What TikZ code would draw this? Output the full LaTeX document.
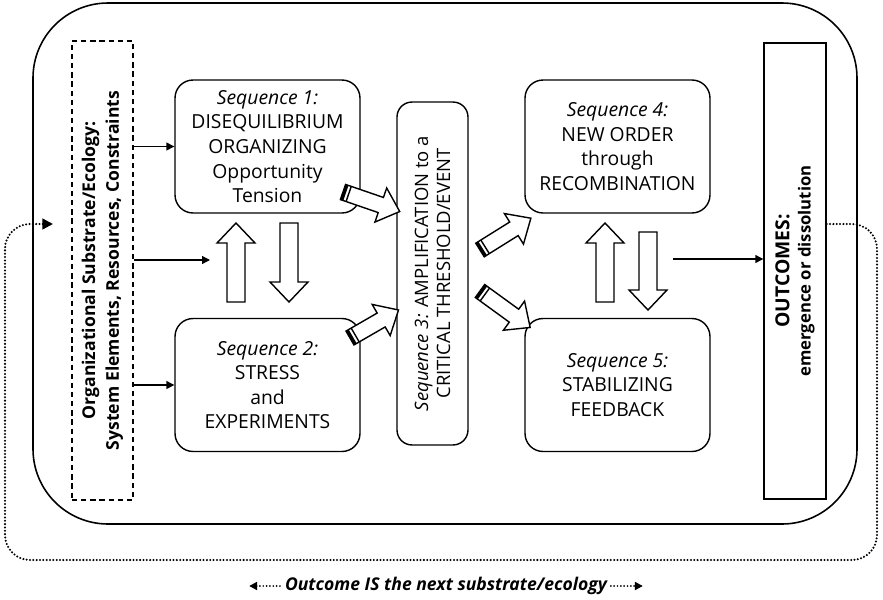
\documentclass[tikz,border=0pt]{standalone}
\usepackage{fontspec}
\setmainfont{Open Sans}
\usetikzlibrary{arrows.meta, positioning, calc}

\tikzset{
  seqbox/.style={draw, line width=0.8pt, rounded corners=0.36cm, minimum width=3.7cm,
    minimum height=2.66cm, align=center, inner sep=0pt, font=\fontsize{11}{14}\selectfont},
  flow/.style={-{Triangle[length=4.5pt,width=4.5pt]}, line width=0.7pt},
  loopline/.style={line width=1.3pt, dash pattern=on 0pt off 1.9pt, line cap=round, rounded corners=0.5cm},
}

% hollow block arrow: tail, angle, length
\newcommand{\fatarrow}[3]{%
  \begin{scope}[shift={#1}, rotate=#2]
    \draw[line width=0.8pt, fill=white] (0,-9) -- ({#3-20},-9) -- ({#3-20},-19) -- (#3,0)
      -- ({#3-20},19) -- ({#3-20},9) -- (0,9) -- cycle;
  \end{scope}}
% hollow block arrow with a banded tail
\newcommand{\bandarrow}[3]{%
  \begin{scope}[shift={#1}, rotate=#2]
    \draw[line width=0.8pt, fill=white] (0,-8) -- ({#3-20},-8) -- ({#3-20},-18) -- (#3,0)
      -- ({#3-20},18) -- ({#3-20},8) -- (0,8) -- cycle;
    \draw[line width=1.8pt] (1.5,-8) -- (1.5,8);
    \draw[line width=0.8pt] (6,-8) -- (6,8);
  \end{scope}}

\begin{document}
\begin{tikzpicture}[x=0.02cm, y=-0.02cm]
    \useasboundingbox (0,0) rectangle (883,599);

    \draw[line width=0.9pt, rounded corners=1.5cm] (33,3) rectangle (857,524);

    \node[draw, dash pattern=on 3pt off 2.2pt, line width=1.6pt, minimum width=1.22cm,
      minimum height=9.18cm, inner sep=0pt] (sub) at (102.5,270.5) {};
    \node[rotate=90, align=center, font=\fontsize{10}{13.5}\selectfont\bfseries] (subtxt) at (sub)
      {Organizational Substrate/Ecology:\\System Elements, Resources, Constraints};

    \node[seqbox] (seqA) at (267.5,146.5)
      {\textit{Sequence 1:}\\DISEQUILIBRIUM\\ORGANIZING\\Opportunity\\Tension};
    \node[seqbox] (seqB) at (267.5,385)
      {\textit{Sequence 2:}\\STRESS\\and\\EXPERIMENTS};
    \node[seqbox, rounded corners=0.3cm, minimum width=1.42cm, minimum height=6.86cm] (seqC) at (432.5,273.5) {};
    \node[rotate=90, align=center, font=\fontsize{10.5}{12.5}\selectfont] (seqCtxt) at (seqC)
      {\textit{Sequence 3:} AMPLIFICATION to a\\CRITICAL THRESHOLD/EVENT};
    \node[seqbox] (seqD) at (617.5,146.5)
      {\textit{Sequence 4:}\\NEW ORDER\\through\\RECOMBINATION};
    \node[seqbox] (seqE) at (617.5,385)
      {\textit{Sequence 5:}\\STABILIZING\\FEEDBACK};

    \node[draw, line width=0.8pt, minimum width=1.24cm, minimum height=9.12cm, inner sep=0pt] (out) at (795,271) {};
    \node[rotate=90, align=center, font=\bfseries] (outtxt) at (out)
      {\fontsize{11}{15}\selectfont OUTCOMES:\\\fontsize{9.5}{11}\selectfont emergence or dissolution};

    % inputs
    \coordinate (midin) at (210,260);
    \draw[flow] (sub.east |- seqA.west) -- (seqA.west);
    \draw[flow] (sub.east |- midin) -- (midin);
    \draw[flow] (sub.east |- seqB.west) -- (seqB.west);

    \fatarrow{(236,302)}{90}{79}
    \fatarrow{(289,223)}{-90}{79}
    \fatarrow{(605,302)}{90}{79}
    \fatarrow{(648,232)}{-90}{78}

    \bandarrow{(343,192)}{-19}{60}
    \bandarrow{(350,338)}{30}{56}
    \bandarrow{(480,250)}{32}{60}
    \bandarrow{(480,291)}{-36}{62}

    \coordinate (outin) at (673,259);
    \draw[flow] (outin) -- (outin -| out.west);

    % feedback loop
    \coordinate (loopend) at (53,224);
    \draw[loopline, -{Triangle[length=6pt,width=6pt]}] ([yshift=0.94cm]out.east) -- (877,224)
      -- (877,560) -- (5,560) -- (5,224) -- (loopend);

    \node[inner sep=2pt, font=\fontsize{10}{12}\selectfont\bfseries\itshape] (cap) at (446,586)
      {Outcome IS the next substrate/ecology};
    \draw[loopline, line width=1.1pt, {Triangle[length=4.5pt,width=4.5pt]}-] ($(cap.west)+(-32,0)$) -- (cap.west);
    \draw[loopline, line width=1.1pt, -{Triangle[length=4.5pt,width=4.5pt]}] (cap.east) -- ($(cap.east)+(32,0)$);
\end{tikzpicture}
\end{document}
